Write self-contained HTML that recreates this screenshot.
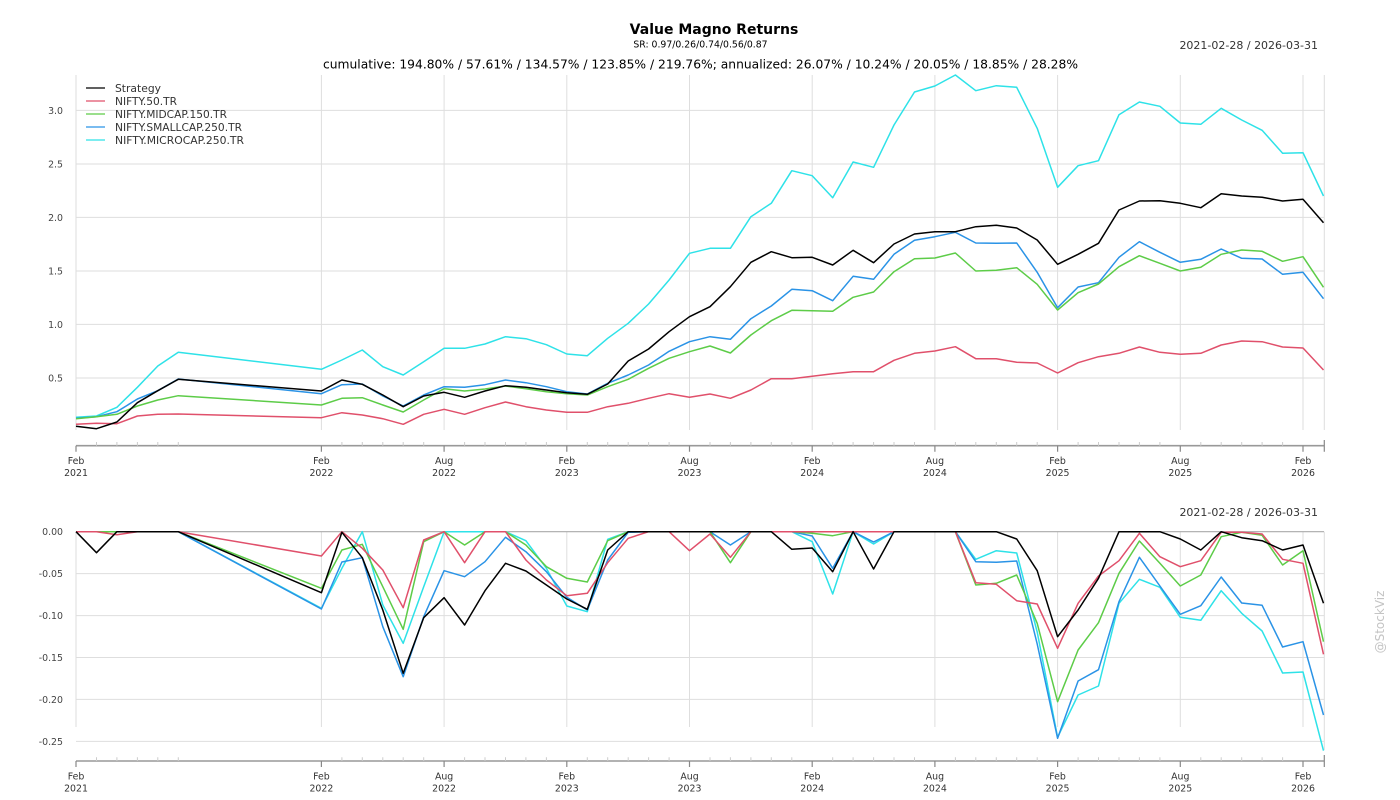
<!DOCTYPE html>
<html><head><meta charset="utf-8">
<style>
html,body{margin:0;padding:0;background:#fff;}
svg{display:block;}
text{font-family:"DejaVu Sans","Liberation Sans",sans-serif;}
</style></head>
<body>
<svg width="1400" height="800" viewBox="0 0 1400 800" xmlns="http://www.w3.org/2000/svg">
<rect width="1400" height="800" fill="#fff"/>
<!-- Titles -->
<text x="714" y="34" text-anchor="middle" font-size="14" font-weight="bold" fill="#000">Value Magno Returns</text>
<text x="700.5" y="47.5" text-anchor="middle" font-size="9.3" fill="#000">SR: 0.97/0.26/0.74/0.56/0.87</text>
<text x="700.5" y="68.5" text-anchor="middle" font-size="12" fill="#000" textLength="755" lengthAdjust="spacingAndGlyphs">cumulative: 194.80% / 57.61% / 134.57% / 123.85% / 219.76%; annualized: 26.07% / 10.24% / 20.05% / 18.85% / 28.28%</text>
<text x="1318" y="49" text-anchor="end" font-size="11" fill="#333">2021-02-28 / 2026-03-31</text>
<text x="1318" y="516" text-anchor="end" font-size="11" fill="#333">2021-02-28 / 2026-03-31</text>
<text transform="translate(1384,622) rotate(-90)" text-anchor="middle" font-size="12" fill="#c4c4c4">@StockViz</text>

<!-- TOP CHART grid -->
<g stroke="#dedede" stroke-width="1" fill="none">
<line x1="76" y1="378" x2="1324" y2="378"/>
<line x1="76" y1="324.4" x2="1324" y2="324.4"/>
<line x1="76" y1="271" x2="1324" y2="271"/>
<line x1="76" y1="217.4" x2="1324" y2="217.4"/>
<line x1="76" y1="164" x2="1324" y2="164"/>
<line x1="76" y1="110.4" x2="1324" y2="110.4"/>
<line x1="76" y1="75" x2="76" y2="430"/>
<line x1="321.4" y1="75" x2="321.4" y2="430"/>
<line x1="444.1" y1="75" x2="444.1" y2="430"/>
<line x1="566.8" y1="75" x2="566.8" y2="430"/>
<line x1="689.5" y1="75" x2="689.5" y2="430"/>
<line x1="812.2" y1="75" x2="812.2" y2="430"/>
<line x1="934.9" y1="75" x2="934.9" y2="430"/>
<line x1="1057.6" y1="75" x2="1057.6" y2="430"/>
<line x1="1180.3" y1="75" x2="1180.3" y2="430"/>
<line x1="1303" y1="75" x2="1303" y2="430"/>
<line x1="1324.3" y1="75" x2="1324.3" y2="430"/>
</g>
<g font-size="9.4" fill="#444" text-anchor="end">
<text x="63" y="381.4">0.5</text>
<text x="63" y="327.8">1.0</text>
<text x="63" y="274.4">1.5</text>
<text x="63" y="220.8">2.0</text>
<text x="63" y="167.4">2.5</text>
<text x="63" y="113.8">3.0</text>
</g>
<!-- top x axis -->
<line x1="76" y1="445.7" x2="1324.3" y2="445.7" stroke="#999" stroke-width="1.6"/>
<g stroke="#ccc" stroke-width="1">
<path d="M96.5 442v3.7M116.9 442v3.7M137.4 442v3.7M157.8 442v3.7M178.3 442v3.7M341.9 442v3.7M362.3 442v3.7M382.8 442v3.7M403.2 442v3.7M423.7 442v3.7M464.6 442v3.7M485 442v3.7M505.5 442v3.7M525.9 442v3.7M546.4 442v3.7M587.3 442v3.7M607.7 442v3.7M628.2 442v3.7M648.6 442v3.7M669.1 442v3.7M710 442v3.7M730.4 442v3.7M750.9 442v3.7M771.3 442v3.7M791.8 442v3.7M832.7 442v3.7M853.1 442v3.7M873.6 442v3.7M894 442v3.7M914.5 442v3.7M955.4 442v3.7M975.8 442v3.7M996.3 442v3.7M1016.7 442v3.7M1037.2 442v3.7M1078.1 442v3.7M1098.5 442v3.7M1119 442v3.7M1139.4 442v3.7M1159.9 442v3.7M1200.8 442v3.7M1221.2 442v3.7M1241.7 442v3.7M1262.1 442v3.7M1282.6 442v3.7"/>
</g>
<g stroke="#888" stroke-width="1.2">
<path d="M76 445.7v6M321.4 445.7v6M444.1 445.7v6M566.8 445.7v6M689.5 445.7v6M812.2 445.7v6M934.9 445.7v6M1057.6 445.7v6M1180.3 445.7v6M1303 445.7v6M1324.3 440v11.7"/>
</g>
<g font-size="9.4" fill="#333" text-anchor="middle">
<text x="76" y="464">Feb</text><text x="76" y="476">2021</text>
<text x="321.4" y="464">Feb</text><text x="321.4" y="476">2022</text>
<text x="444.1" y="464">Aug</text><text x="444.1" y="476">2022</text>
<text x="566.8" y="464">Feb</text><text x="566.8" y="476">2023</text>
<text x="689.5" y="464">Aug</text><text x="689.5" y="476">2023</text>
<text x="812.2" y="464">Feb</text><text x="812.2" y="476">2024</text>
<text x="934.9" y="464">Aug</text><text x="934.9" y="476">2024</text>
<text x="1057.6" y="464">Feb</text><text x="1057.6" y="476">2025</text>
<text x="1180.3" y="464">Aug</text><text x="1180.3" y="476">2025</text>
<text x="1303" y="464">Feb</text><text x="1303" y="476">2026</text>
</g>

<!-- top series -->
<g fill="none" stroke-width="1.5" stroke-linejoin="round">
<polyline stroke="#2ee2e8" points="76,417.3 96.5,416 116.9,407.3 137.4,387.3 157.8,366 178.3,352.3 321.4,369.3 341.9,360 362.3,350 382.8,366.7 403.2,375 423.7,361.7 444.1,348.3 464.6,348.3 485,344 505.5,336.7 525.9,338.7 546.4,344.7 566.8,354 587.3,355.7 607.7,338.3 628.2,323.3 648.6,304 669.1,280 689.5,253.3 710,248.3 730.4,248.3 750.9,216.7 771.3,203.3 791.8,170.7 812.2,175.7 832.7,197.7 853.1,162 873.6,167.3 894,125 914.5,92 934.9,86 955.4,75 975.8,90.7 996.3,85.7 1016.7,87.3 1037.2,128.3 1057.6,187.3 1078.1,165.7 1098.5,160.7 1119,114.7 1139.4,102 1159.9,106.3 1180.3,123 1200.8,124.3 1221.2,108.3 1241.7,120 1262.1,130.3 1282.6,153.3 1303,152.7 1323.5,196"/>
<polyline stroke="#2a93e6" points="76,418.3 96.5,416.7 116.9,411.7 137.4,399 157.8,390.7 178.3,379 321.4,393.7 341.9,384.7 362.3,384 382.8,396 403.2,406 423.7,395 444.1,386.7 464.6,387.3 485,384.7 505.5,380 525.9,382.7 546.4,386.7 566.8,391.7 587.3,394 607.7,383.3 628.2,375 648.6,365 669.1,351.3 689.5,341.7 710,336.7 730.4,339.3 750.9,318.7 771.3,306 791.8,289.3 812.2,290.7 832.7,300.7 853.1,276.3 873.6,279.3 894,254.3 914.5,240.3 934.9,236.7 955.4,232.3 975.8,243 996.3,243.3 1016.7,243 1037.2,272.3 1057.6,307.7 1078.1,287 1098.5,282.7 1119,257.3 1139.4,241.7 1159.9,252.3 1180.3,262.3 1200.8,259.3 1221.2,249 1241.7,258.3 1262.1,259 1282.6,274.3 1303,272.3 1323.5,298.7"/>
<polyline stroke="#5dcc48" points="76,418.7 96.5,416.7 116.9,414.3 137.4,406 157.8,400 178.3,395.7 321.4,405 341.9,398.3 362.3,397.7 382.8,405 403.2,412 423.7,400 444.1,388.7 464.6,391 485,389 505.5,386 525.9,388.7 546.4,391.7 566.8,393.7 587.3,395 607.7,386.7 628.2,379.3 648.6,368.3 669.1,358.3 689.5,351.7 710,346 730.4,353 750.9,335 771.3,320.7 791.8,310.3 812.2,310.7 832.7,311.3 853.1,297.3 873.6,292 894,271.7 914.5,258.7 934.9,258 955.4,253 975.8,271 996.3,270.3 1016.7,267.7 1037.2,284.3 1057.6,310 1078.1,292.7 1098.5,284 1119,266.7 1139.4,255.7 1159.9,263.3 1180.3,271 1200.8,267.3 1221.2,254.3 1241.7,250 1262.1,251.3 1282.6,261.3 1303,256.7 1323.5,287.3"/>
<polyline stroke="#e0506b" points="76,424.3 96.5,423.3 116.9,423.7 137.4,416 157.8,414.3 178.3,414 321.4,417.7 341.9,412.7 362.3,415 382.8,418.7 403.2,424.3 423.7,414.3 444.1,409.3 464.6,414.3 485,407.7 505.5,402 525.9,406.7 546.4,410 566.8,412.3 587.3,412.3 607.7,406.7 628.2,403.3 648.6,398.3 669.1,393.7 689.5,397.3 710,394 730.4,398.3 750.9,390 771.3,378.7 791.8,378.7 812.2,376.3 832.7,373.7 853.1,371.7 873.6,371.7 894,360.3 914.5,353.3 934.9,351 955.4,346.7 975.8,358.7 996.3,358.7 1016.7,362.3 1037.2,363 1057.6,373 1078.1,362.7 1098.5,356.7 1119,353.3 1139.4,347 1159.9,352.3 1180.3,354.3 1200.8,353.3 1221.2,345 1241.7,341 1262.1,341.7 1282.6,347 1303,348 1323.5,370"/>
<polyline stroke="#000" points="76,426.3 96.5,428.7 116.9,422 137.4,402.7 157.8,390.7 178.3,379.3 321.4,391 341.9,380 362.3,384.3 382.8,395 403.2,406.7 423.7,396 444.1,392.3 464.6,397.3 485,391 505.5,385.7 525.9,387.3 546.4,390 566.8,392.7 587.3,394.3 607.7,384 628.2,361 648.6,349 669.1,331.7 689.5,316.7 710,306.7 730.4,286.7 750.9,262.3 771.3,251.7 791.8,257.7 812.2,257.3 832.7,265 853.1,250.3 873.6,262.7 894,244 914.5,234 934.9,231.7 955.4,231.7 975.8,226.7 996.3,225.3 1016.7,228 1037.2,240 1057.6,264.3 1078.1,254.3 1098.5,243.3 1119,210 1139.4,201 1159.9,200.7 1180.3,203.3 1200.8,207.7 1221.2,193.7 1241.7,196 1262.1,197.3 1282.6,201 1303,199.3 1323.5,222.7"/>
</g>

<!-- legend -->
<g stroke-width="1.2">
<line x1="86" y1="88" x2="105" y2="88" stroke="#000"/>
<line x1="86" y1="101" x2="105" y2="101" stroke="#e0506b"/>
<line x1="86" y1="114" x2="105" y2="114" stroke="#5dcc48"/>
<line x1="86" y1="127" x2="105" y2="127" stroke="#2a93e6"/>
<line x1="86" y1="140" x2="105" y2="140" stroke="#2ee2e8"/>
</g>
<g font-size="10.6" fill="#333">
<text x="115" y="91.8" textLength="46" lengthAdjust="spacingAndGlyphs">Strategy</text>
<text x="115" y="104.8" textLength="62" lengthAdjust="spacingAndGlyphs">NIFTY.50.TR</text>
<text x="115" y="117.8" textLength="112" lengthAdjust="spacingAndGlyphs">NIFTY.MIDCAP.150.TR</text>
<text x="115" y="130.8" textLength="127" lengthAdjust="spacingAndGlyphs">NIFTY.SMALLCAP.250.TR</text>
<text x="115" y="143.8" textLength="129" lengthAdjust="spacingAndGlyphs">NIFTY.MICROCAP.250.TR</text>
</g>

<!-- BOTTOM CHART grid -->
<g stroke="#dedede" stroke-width="1" fill="none">
<line x1="76" y1="573.6" x2="1324" y2="573.6"/>
<line x1="76" y1="615.6" x2="1324" y2="615.6"/>
<line x1="76" y1="657.5" x2="1324" y2="657.5"/>
<line x1="76" y1="699.4" x2="1324" y2="699.4"/>
<line x1="76" y1="741.4" x2="1324" y2="741.4"/>
<line x1="76" y1="531.7" x2="76" y2="727"/>
<line x1="321.4" y1="531.7" x2="321.4" y2="727"/>
<line x1="444.1" y1="531.7" x2="444.1" y2="727"/>
<line x1="566.8" y1="531.7" x2="566.8" y2="727"/>
<line x1="689.5" y1="531.7" x2="689.5" y2="727"/>
<line x1="812.2" y1="531.7" x2="812.2" y2="727"/>
<line x1="934.9" y1="531.7" x2="934.9" y2="727"/>
<line x1="1057.6" y1="531.7" x2="1057.6" y2="727"/>
<line x1="1180.3" y1="531.7" x2="1180.3" y2="727"/>
<line x1="1303" y1="531.7" x2="1303" y2="727"/>
<line x1="1324.3" y1="531.7" x2="1324.3" y2="750"/>
</g>
<line x1="76" y1="531.7" x2="1324" y2="531.7" stroke="#aaa" stroke-width="1.2"/>
<g font-size="9.4" fill="#444" text-anchor="end">
<text x="63" y="535.1">0.00</text>
<text x="63" y="577">-0.05</text>
<text x="63" y="619">-0.10</text>
<text x="63" y="660.9">-0.15</text>
<text x="63" y="702.8">-0.20</text>
<text x="63" y="744.8">-0.25</text>
</g>
<line x1="76" y1="761" x2="1324.3" y2="761" stroke="#999" stroke-width="1.6"/>
<g stroke="#ccc" stroke-width="1">
<path d="M96.5 757.3v3.7M116.9 757.3v3.7M137.4 757.3v3.7M157.8 757.3v3.7M178.3 757.3v3.7M341.9 757.3v3.7M362.3 757.3v3.7M382.8 757.3v3.7M403.2 757.3v3.7M423.7 757.3v3.7M464.6 757.3v3.7M485 757.3v3.7M505.5 757.3v3.7M525.9 757.3v3.7M546.4 757.3v3.7M587.3 757.3v3.7M607.7 757.3v3.7M628.2 757.3v3.7M648.6 757.3v3.7M669.1 757.3v3.7M710 757.3v3.7M730.4 757.3v3.7M750.9 757.3v3.7M771.3 757.3v3.7M791.8 757.3v3.7M832.7 757.3v3.7M853.1 757.3v3.7M873.6 757.3v3.7M894 757.3v3.7M914.5 757.3v3.7M955.4 757.3v3.7M975.8 757.3v3.7M996.3 757.3v3.7M1016.7 757.3v3.7M1037.2 757.3v3.7M1078.1 757.3v3.7M1098.5 757.3v3.7M1119 757.3v3.7M1139.4 757.3v3.7M1159.9 757.3v3.7M1200.8 757.3v3.7M1221.2 757.3v3.7M1241.7 757.3v3.7M1262.1 757.3v3.7M1282.6 757.3v3.7"/>
</g>
<g stroke="#888" stroke-width="1.2">
<path d="M76 761v6M321.4 761v6M444.1 761v6M566.8 761v6M689.5 761v6M812.2 761v6M934.9 761v6M1057.6 761v6M1180.3 761v6M1303 761v6M1324.3 755v12"/>
</g>
<g font-size="9.4" fill="#333" text-anchor="middle">
<text x="76" y="779.3">Feb</text><text x="76" y="791.3">2021</text>
<text x="321.4" y="779.3">Feb</text><text x="321.4" y="791.3">2022</text>
<text x="444.1" y="779.3">Aug</text><text x="444.1" y="791.3">2022</text>
<text x="566.8" y="779.3">Feb</text><text x="566.8" y="791.3">2023</text>
<text x="689.5" y="779.3">Aug</text><text x="689.5" y="791.3">2023</text>
<text x="812.2" y="779.3">Feb</text><text x="812.2" y="791.3">2024</text>
<text x="934.9" y="779.3">Aug</text><text x="934.9" y="791.3">2024</text>
<text x="1057.6" y="779.3">Feb</text><text x="1057.6" y="791.3">2025</text>
<text x="1180.3" y="779.3">Aug</text><text x="1180.3" y="791.3">2025</text>
<text x="1303" y="779.3">Feb</text><text x="1303" y="791.3">2026</text>
</g>

<!-- bottom series -->
<g fill="none" stroke-width="1.5" stroke-linejoin="round">
<polyline stroke="#2ee2e8" points="76,531.7 96.5,531.7 116.9,531.7 137.4,531.7 157.8,531.7 178.3,531.7 321.4,608.3 341.9,568.3 362.3,531.7 382.8,605 403.2,643.3 423.7,586.7 444.1,531.7 464.6,531.7 485,531.7 505.5,531.7 525.9,540.7 546.4,568.3 566.8,606 587.3,611.7 607.7,539.3 628.2,531.7 648.6,531.7 669.1,531.7 689.5,531.7 710,531.7 730.4,531.7 750.9,531.7 771.3,531.7 791.8,531.7 812.2,541.7 832.7,594 853.1,531.7 873.6,544 894,531.7 914.5,531.7 934.9,531.7 955.4,531.7 975.8,559.3 996.3,550.7 1016.7,553 1037.2,632 1057.6,737.3 1078.1,695 1098.5,686 1119,603.3 1139.4,579.3 1159.9,587.3 1180.3,617.3 1200.8,620.3 1221.2,590.7 1241.7,613.3 1262.1,631 1282.6,673 1303,672 1323.5,750.7"/>
<polyline stroke="#2a93e6" points="76,531.7 96.5,531.7 116.9,531.7 137.4,531.7 157.8,531.7 178.3,531.7 321.4,609 341.9,562 362.3,557.7 382.8,626.7 403.2,676.7 423.7,616.7 444.1,570.7 464.6,576.7 485,561.7 505.5,537.3 525.9,551.7 546.4,571.7 566.8,597.3 587.3,610 607.7,560 628.2,532.3 648.6,531.7 669.1,531.7 689.5,531.7 710,531.7 730.4,545 750.9,531.7 771.3,531.7 791.8,531.7 812.2,536 832.7,568.3 853.1,531.7 873.6,542 894,531.7 914.5,531.7 934.9,531.7 955.4,531.7 975.8,561.7 996.3,562.3 1016.7,561 1037.2,644 1057.6,738.3 1078.1,681 1098.5,669.7 1119,601.7 1139.4,557.3 1159.9,586 1180.3,614.3 1200.8,605.7 1221.2,577 1241.7,603 1262.1,605.3 1282.6,647 1303,641.7 1323.5,715"/>
<polyline stroke="#5dcc48" points="76,531.7 96.5,531.7 116.9,531.7 137.4,531.7 157.8,531.7 178.3,531.7 321.4,588.3 341.9,550 362.3,544.3 382.8,586.7 403.2,629.3 423.7,541.7 444.1,531.7 464.6,545 485,531.7 505.5,531.7 525.9,545 546.4,566.7 566.8,578.3 587.3,582 607.7,540.7 628.2,531.7 648.6,531.7 669.1,531.7 689.5,531.7 710,531.7 730.4,562.7 750.9,531.7 771.3,531.7 791.8,531.7 812.2,533.3 832.7,535.7 853.1,531.7 873.6,531.7 894,531.7 914.5,531.7 934.9,531.7 955.4,531.7 975.8,585 996.3,583.3 1016.7,575 1037.2,623.3 1057.6,701.7 1078.1,650 1098.5,622.7 1119,573.3 1139.4,541 1159.9,563.3 1180.3,586 1200.8,575 1221.2,536.7 1241.7,532.3 1262.1,535.3 1282.6,565 1303,550.7 1323.5,641.7"/>
<polyline stroke="#e0506b" points="76,531.7 96.5,531.7 116.9,534.7 137.4,531.7 157.8,531.7 178.3,531.7 321.4,556 341.9,531.7 362.3,548.3 382.8,570 403.2,607.7 423.7,540 444.1,531.7 464.6,562.7 485,531.7 505.5,531.7 525.9,560 546.4,580 566.8,595.7 587.3,593.3 607.7,562.7 628.2,538.3 648.6,531.7 669.1,531.7 689.5,550.7 710,534 730.4,557.3 750.9,531.7 771.3,531.7 791.8,531.7 812.2,531.7 832.7,531.7 853.1,531.7 873.6,531.7 894,531.7 914.5,531.7 934.9,531.7 955.4,531.7 975.8,582.7 996.3,584.3 1016.7,600.7 1037.2,604 1057.6,648.3 1078.1,603.3 1098.5,576 1119,560.7 1139.4,533.3 1159.9,556.7 1180.3,566.7 1200.8,560.7 1221.2,532.3 1241.7,532.3 1262.1,534 1282.6,559.3 1303,563.3 1323.5,654.3"/>
<polyline stroke="#000" points="76,531.7 96.5,552.7 116.9,531.7 137.4,531.7 157.8,531.7 178.3,531.7 321.4,592.7 341.9,532.3 362.3,557.7 382.8,610 403.2,673.3 423.7,617.7 444.1,597.7 464.6,625 485,590.7 505.5,563.3 525.9,571 546.4,585 566.8,599 587.3,609.3 607.7,550 628.2,531.7 648.6,531.7 669.1,531.7 689.5,531.7 710,531.7 730.4,531.7 750.9,531.7 771.3,531.7 791.8,549.3 812.2,548 832.7,571.7 853.1,531.7 873.6,569 894,531.7 914.5,531.7 934.9,531.7 955.4,531.7 975.8,531.7 996.3,531.7 1016.7,539 1037.2,570.7 1057.6,636.7 1078.1,610 1098.5,578.3 1119,531.7 1139.4,531.7 1159.9,531.7 1180.3,539 1200.8,550 1221.2,531.7 1241.7,537.7 1262.1,540.7 1282.6,550 1303,545 1323.5,603.3"/>
</g>
</svg>
</body></html>
